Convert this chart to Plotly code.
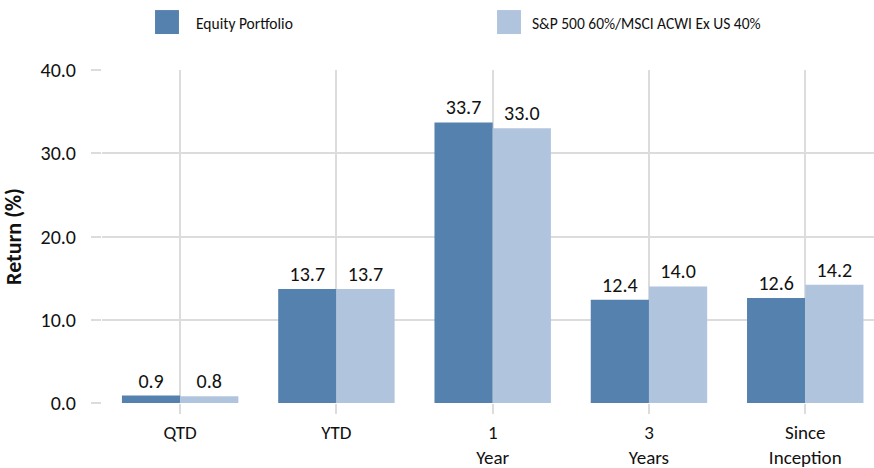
import plotly.graph_objects as go

categories = ["QTD", "YTD", "1<br>Year", "3<br>Years", "Since<br>Inception"]
equity = [0.9, 13.7, 33.7, 12.4, 12.6]
benchmark = [0.8, 13.7, 33.0, 14.0, 14.2]
series_names = ["Equity Portfolio", "S&P 500 60%/MSCI ACWI Ex US 40%"]
series_colors = ["#5481ad", "#b0c4de"]
y_ticks = [0, 10, 20, 30, 40]

FONT = "Carlito, Calibri, 'Liberation Sans', Arial, sans-serif"
GRID = "#dcdcdc"
TXT = "#111111"

fig = go.Figure()
for name, vals, col in zip(series_names, [equity, benchmark], series_colors):
    fig.add_trace(go.Bar(
        x=categories, y=vals, name=name,
        marker=dict(color=col, line=dict(width=0)),
        text=[f"{v:.1f}" for v in vals], textposition="outside",
        textfont=dict(size=20, color=TXT, family=FONT), cliponaxis=False,
        showlegend=False,
    ))

# Manual legend (large square swatches like the reference)
legend_x = [(0.0687, 0.0997, 0.1192), (0.5117, 0.5427, 0.5544)]
for (x0, x1, xt), name, col in zip(legend_x, series_names, series_colors):
    fig.add_shape(type="rect", xref="paper", yref="paper",
                  x0=x0, x1=x1, y0=1.108, y1=1.180,
                  fillcolor=col, line=dict(width=0))
    fig.add_annotation(xref="paper", yref="paper", x=xt, y=1.141,
                       xanchor="left", yanchor="middle", showarrow=False,
                       text=name, font=dict(size=15.5, color=TXT, family=FONT))

fig.update_layout(
    width=874, height=468,
    margin=dict(l=102, r=0, t=70, b=65, autoexpand=False),
    paper_bgcolor="white", plot_bgcolor="white",
    barmode="group", bargap=0.255, bargroupgap=0,
    font=dict(family=FONT, size=20, color=TXT),
    showlegend=False,
    xaxis=dict(
        type="category", range=[-0.5, 4.44],
        showgrid=True, gridcolor=GRID, gridwidth=2,
        ticks="outside", ticklen=10, tickcolor=GRID, tickwidth=2,
        showline=False, zeroline=False, ticklabelstandoff=2,
        tickfont=dict(size=19, family=FONT, color=TXT),
    ),
    yaxis=dict(
        range=[0, 40], tickvals=y_ticks, tickformat=".1f",
        showgrid=True, gridcolor=GRID, gridwidth=2,
        ticks="outside", ticklen=10, tickcolor=GRID, tickwidth=2,
        showline=False, zeroline=False, ticklabelstandoff=11,
        tickfont=dict(size=20, family=FONT, color=TXT),
        title=dict(text="<b>Return (%)</b>", font=dict(size=22, family=FONT, color=TXT), standoff=13),
    ),
)

fig.write_html("out.html",
               config={"displayModeBar": False},
               post_script="document.body.style.margin='0px';document.body.style.overflow='hidden';")
